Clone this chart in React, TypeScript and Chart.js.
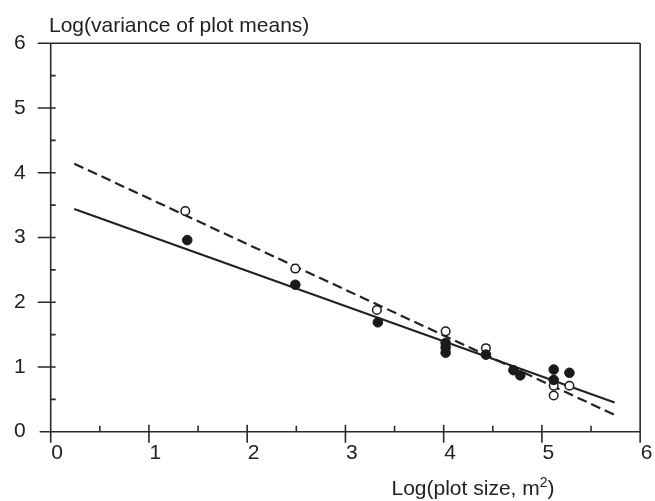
import { useEffect, useRef } from "react";
import { Chart, registerables } from "chart.js";

Chart.register(...registerables);

// ---- data ----
const xTickValues = [0, 1, 2, 3, 4, 5, 6];
const yTickValues = [0, 1, 2, 3, 4, 5, 6];
const xMinorTicks = [0.5, 1.5, 2.5, 3.5, 4.5, 5.5];
const yMinorTicks = [0.5, 1.5, 2.5, 3.5, 4.5, 5.5];

const openX = [1.37, 2.49, 3.32, 4.02, 4.43, 5.12, 5.12, 5.28];
const openY = [3.41, 2.52, 1.88, 1.55, 1.29, 0.71, 0.56, 0.71];

const filledX = [1.39, 2.49, 3.33, 4.02, 4.02, 4.02, 4.43, 4.71, 4.78, 5.12, 5.12, 5.28];
const filledY = [2.96, 2.27, 1.69, 1.37, 1.30, 1.22, 1.19, 0.95, 0.87, 0.96, 0.80, 0.91];

const fitX = [0.24, 5.74];
const solidFitY = [3.44, 0.45];
const dashedFitY = [4.14, 0.26];

const yAxisTitle = "Log(variance of plot means)";
const xAxisTitleMain = "Log(plot size, m";
const xAxisTitleSup = "2";
const xAxisTitleEnd = ")";

const FONT = "'Liberation Sans', Arial, Helvetica, sans-serif";
const INK = "#222222";

const toPoints = (xs: number[], ys: number[]) => xs.map((x, i) => ({ x, y: ys[i] }));

const framePlugin = {
  id: "frameAxes",
  beforeDatasetsDraw(chart: any) {
    const { ctx, scales } = chart;
    const xs = scales.x;
    const ys = scales.y;
    const px = (v: number) => xs.getPixelForValue(v);
    const py = (v: number) => ys.getPixelForValue(v);
    const xMin = xTickValues[0];
    const xMax = xTickValues[xTickValues.length - 1];
    const yMin = yTickValues[0];
    const yMax = yTickValues[yTickValues.length - 1];
    const x0 = px(xMin), x6 = px(xMax), y0 = py(yMin), y6 = py(yMax);
    ctx.save();
    ctx.strokeStyle = "#2a2a2a";
    ctx.lineWidth = 1.6;
    ctx.lineCap = "butt";
    ctx.beginPath();
    // x axis and top frame
    ctx.moveTo(x0 - 11, y0);
    ctx.lineTo(x6, y0);
    ctx.moveTo(x0 - 13, y6);
    ctx.lineTo(x6, y6);
    // y axis and right frame
    ctx.moveTo(x0, y6);
    ctx.lineTo(x0, y0 + 11);
    ctx.moveTo(x6, y6);
    ctx.lineTo(x6, y0 + 11);
    // x major ticks
    xTickValues.slice(1, -1).forEach((v) => {
      ctx.moveTo(px(v), y0 - 7);
      ctx.lineTo(px(v), y0 + 11);
    });
    xMinorTicks.forEach((v) => {
      ctx.moveTo(px(v), y0 - 6);
      ctx.lineTo(px(v), y0);
    });
    // y major ticks
    yTickValues.slice(1, -1).forEach((v) => {
      ctx.moveTo(x0 - 13, py(v));
      ctx.lineTo(x0 + 5, py(v));
    });
    yMinorTicks.forEach((v) => {
      ctx.moveTo(x0, py(v));
      ctx.lineTo(x0 + 5, py(v));
    });
    ctx.stroke();

    // titles
    ctx.fillStyle = INK;
    ctx.textBaseline = "alphabetic";
    ctx.textAlign = "left";
    ctx.font = `21px ${FONT}`;
    ctx.fillText(yAxisTitle, 49, 31.5);

    const mainW = ctx.measureText(xAxisTitleMain).width;
    ctx.font = `14px ${FONT}`;
    const supW = ctx.measureText(xAxisTitleSup).width;
    ctx.font = `21px ${FONT}`;
    const endW = ctx.measureText(xAxisTitleEnd).width;
    const total = mainW + supW + endW;
    const cx = 473;
    let tx = cx - total / 2;
    const base = 495;
    ctx.fillText(xAxisTitleMain, tx, base);
    tx += mainW;
    ctx.font = `14px ${FONT}`;
    ctx.fillText(xAxisTitleSup, tx, base - 8);
    tx += supW;
    ctx.font = `21px ${FONT}`;
    ctx.fillText(xAxisTitleEnd, tx, base);
    ctx.restore();
  },
};

export default function App() {
  const canvasRef = useRef<HTMLCanvasElement | null>(null);

  useEffect(() => {
    document.body.style.margin = "0";
    const canvas = canvasRef.current;
    if (!canvas) return;
    const chart = new Chart(canvas, {
      type: "scatter",
      data: {
        datasets: [
          {
            label: "Filled",
            data: toPoints(filledX, filledY),
            backgroundColor: "#1a1a1a",
            borderColor: "#1a1a1a",
            pointRadius: 4.8,
            pointBorderWidth: 1,
            order: 0,
          },
          {
            label: "Open",
            data: toPoints(openX, openY),
            backgroundColor: "#ffffff",
            borderColor: "#1a1a1a",
            pointRadius: 4.3,
            pointBorderWidth: 1.5,
            order: 1,
          },
          {
            label: "Solid fit",
            data: toPoints(fitX, solidFitY),
            showLine: true,
            borderColor: INK,
            borderWidth: 2.2,
            pointRadius: 0,
            order: 2,
          },
          {
            label: "Dashed fit",
            data: toPoints(fitX, dashedFitY),
            showLine: true,
            borderColor: INK,
            borderWidth: 2.2,
            borderDash: [10, 5],
            pointRadius: 0,
            order: 3,
          },
        ],
      },
      options: {
        animation: false,
        responsive: false,
        devicePixelRatio: 1,
        layout: { padding: { top: 43.3, right: 13.7, left: 0, bottom: 0 } },
        plugins: {
          legend: { display: false },
          tooltip: { enabled: false },
        },
        scales: {
          x: {
            type: "linear",
            min: xTickValues[0],
            max: xTickValues[xTickValues.length - 1],
            afterBuildTicks: (s: any) => {
              s.ticks = xTickValues.map((v) => ({ value: v }));
            },
            afterFit: (s: any) => {
              s.height = 69.3;
            },
            grid: { display: false, drawTicks: false },
            border: { display: false },
            ticks: {
              font: { family: FONT, size: 21 },
              color: INK,
              padding: 9,
              labelOffset: 6.5,
              maxRotation: 0,
              autoSkip: false,
            },
          },
          y: {
            type: "linear",
            min: yTickValues[0],
            max: yTickValues[yTickValues.length - 1],
            afterBuildTicks: (s: any) => {
              s.ticks = yTickValues.map((v) => ({ value: v }));
            },
            afterFit: (s: any) => {
              s.width = 50.7;
            },
            grid: { display: false, drawTicks: false },
            border: { display: false },
            ticks: {
              font: { family: FONT, size: 21 },
              color: INK,
              padding: 25,
              autoSkip: false,
            },
          },
        },
      },
      plugins: [framePlugin],
    });
    return () => chart.destroy();
  }, []);

  return (
    <div style={{ width: 655, height: 501 }}>
      <canvas ref={canvasRef} width={655} height={501} style={{ display: "block" }} />
    </div>
  );
}
